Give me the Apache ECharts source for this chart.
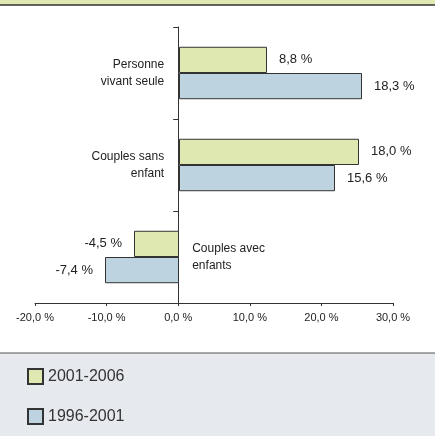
<!DOCTYPE html>
<html>
<head>
<meta charset="utf-8">
<script src="https://cdn.jsdelivr.net/npm/echarts@6/dist/echarts.min.js"></script>
<style>html,body{margin:0;padding:0;background:#fff}#c{width:435px;height:436px}</style>
</head>
<body>
<div id="c"></div>
<script>
const categories = ['Personne\nvivant seule', 'Couples sans\nenfant', 'Couples avec\nenfants'];
const seriesNames = ['2001-2006', '1996-2001'];
const values2001_2006 = [8.8, 18.0, -4.5];
const values1996_2001 = [18.3, 15.6, -7.4];
const xTickMin = -20, xTickMax = 30, xTickStep = 10;
const insideLabelIndex = 2;

const fmt = v => v.toFixed(1).replace('.', ',') + ' %';
const font = "'Liberation Sans', Arial, Helvetica, sans-serif";

function barData(arr) {
  return arr.map(v => ({ value: v, label: { position: v < 0 ? 'left' : 'right' } }));
}

const gridLeft = 35, gridRight = 42;
const gridWidth = 435 - gridLeft - gridRight;
// place the category axis at the 0 value of the visible scale
const zeroOffset = (0 - xTickMin) / (xTickMax - xTickMin) * gridWidth;

const chart = echarts.init(document.getElementById('c'), null, { renderer: 'canvas' });
chart.setOption({
  animation: false,
  textStyle: { fontFamily: font },
  graphic: [
    { type: 'rect', shape: { x: 0, y: 0, width: 435, height: 5 }, style: { fill: '#e1e9b3' }, z: -1 },
    { type: 'line', shape: { x1: 0, y1: 5, x2: 435, y2: 5 }, style: { stroke: '#333', lineWidth: 1.5 }, z: -1 },
    { type: 'rect', shape: { x: 0, y: 353, width: 435, height: 83 }, style: { fill: '#e6e9ee' }, z: -1 },
    { type: 'line', shape: { x1: 0, y1: 353, x2: 435, y2: 353 }, style: { stroke: '#555', lineWidth: 1 }, z: -1 }
  ],
  legend: {
    orient: 'vertical', left: 27, top: 368, padding: 0,
    itemWidth: 15, itemHeight: 15, itemGap: 23,
    icon: 'rect',
    textStyle: { fontSize: 16, color: '#333', fontFamily: font },
    data: seriesNames
  },
  grid: { left: gridLeft, right: gridRight, top: 27, bottom: 133, containLabel: false, outerBoundsMode: 'none' },
  xAxis: [
    {
      type: 'value', min: xTickMin, max: xTickMax, interval: xTickStep,
      axisLine: { show: true, onZero: false, lineStyle: { color: '#333' } },
      axisTick: { show: true, length: 3, lineStyle: { color: '#333' } },
      splitLine: { show: false },
      axisLabel: { formatter: v => fmt(v), fontSize: 11, color: '#222', margin: 9 }
    },
    { type: 'value', min: -14.4, max: 21.4, show: false, splitLine: { show: false } }
  ],
  yAxis: [
    {
      type: 'category', inverse: true, position: 'left', offset: -zeroOffset, data: categories,
      axisLine: { show: true, onZero: false, lineStyle: { color: '#333' } },
      axisTick: { show: true, length: 5, lineStyle: { color: '#333' } },
      axisLabel: { fontSize: 12, color: '#222', margin: 14, lineHeight: 17, align: 'right',
        formatter: (v, i) => i === insideLabelIndex ? '' : v }
    },
    {
      type: 'category', inverse: true, position: 'left', offset: -zeroOffset, data: categories,
      axisLine: { show: false, onZero: false }, axisTick: { show: false },
      axisLabel: { inside: true, fontSize: 12, color: '#222', margin: 14, lineHeight: 17, align: 'left',
        formatter: (v, i) => i === insideLabelIndex ? v : '' }
    }
  ],
  series: [
    { name: seriesNames[0], type: 'bar', xAxisIndex: 1, yAxisIndex: 0, data: barData(values2001_2006),
      barGap: '0%', barCategoryGap: '43%',
      itemStyle: { color: '#dfe8b0', borderColor: '#333', borderWidth: 1 },
      label: { show: true, distance: 12, fontSize: 13, color: '#222', formatter: p => fmt(p.value) } },
    { name: seriesNames[1], type: 'bar', xAxisIndex: 1, yAxisIndex: 0, data: barData(values1996_2001),
      barGap: '0%', barCategoryGap: '43%',
      itemStyle: { color: '#bdd3e0', borderColor: '#333', borderWidth: 1 },
      label: { show: true, distance: 12, fontSize: 13, color: '#222', formatter: p => fmt(p.value) } }
  ]
});
</script>
</body>
</html>
